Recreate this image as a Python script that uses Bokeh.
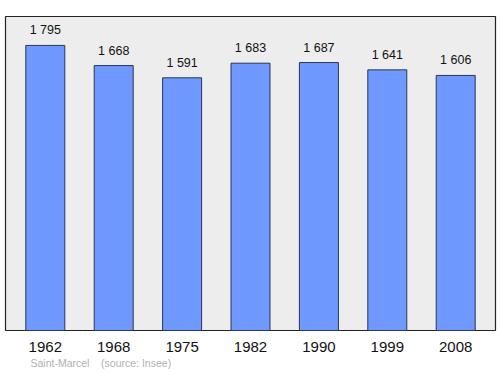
from bokeh.plotting import figure
from bokeh.models import ColumnDataSource, Title, FactorRange, Range1d
from bokeh.core.properties import value
from bokeh.embed import file_html
from bokeh.resources import INLINE

years = ["1962", "1968", "1975", "1982", "1990", "1999", "2008"]
population = [1795, 1668, 1591, 1683, 1687, 1641, 1606]
labels = ["{:,}".format(v).replace(",", " ") for v in population]

src = ColumnDataSource(dict(x=years, top=population, label=labels))

p = figure(width=500, height=374, x_range=FactorRange(*years, range_padding=0.0234),
           y_range=Range1d(0, 1977), output_backend="svg", toolbar_location=None,
           min_border_left=5, min_border_right=5, min_border_top=16, min_border_bottom=44)
p.background_fill_color = "#ededed"
p.border_fill_color = "white"
p.outline_line_color = "#222222"
p.outline_line_width = 1.2
p.xgrid.visible = False
p.ygrid.visible = False
p.yaxis.visible = False
p.xaxis.axis_line_color = None
p.xaxis.major_tick_line_color = None
p.xaxis.minor_tick_line_color = None
p.xaxis.major_label_text_font = "Liberation Sans"
p.xaxis.major_label_text_font_size = "15px"
p.xaxis.major_label_text_color = "#111111"
p.xaxis.major_label_standoff = 5

p.vbar(x="x", top="top", width=0.57, source=src, fill_color="#7099ff",
       line_color="#2a3550", line_width=1)
p.text(x="x", y="top", text="label", source=src, text_align="center",
       text_baseline="bottom", y_offset=-8, text_font=value("Liberation Sans"),
       text_font_size="12.5px", text_color="#111111")

p.add_layout(Title(text="Saint-Marcel\u00a0\u00a0\u00a0\u00a0(source: Insee)", align="left", offset=25,
                   standoff=0, text_font="Liberation Sans", text_font_size="10.5px",
                   text_font_style="normal", text_color="#b0b0b0"), "below")

open("out.html", "w").write(file_html(p, INLINE))
